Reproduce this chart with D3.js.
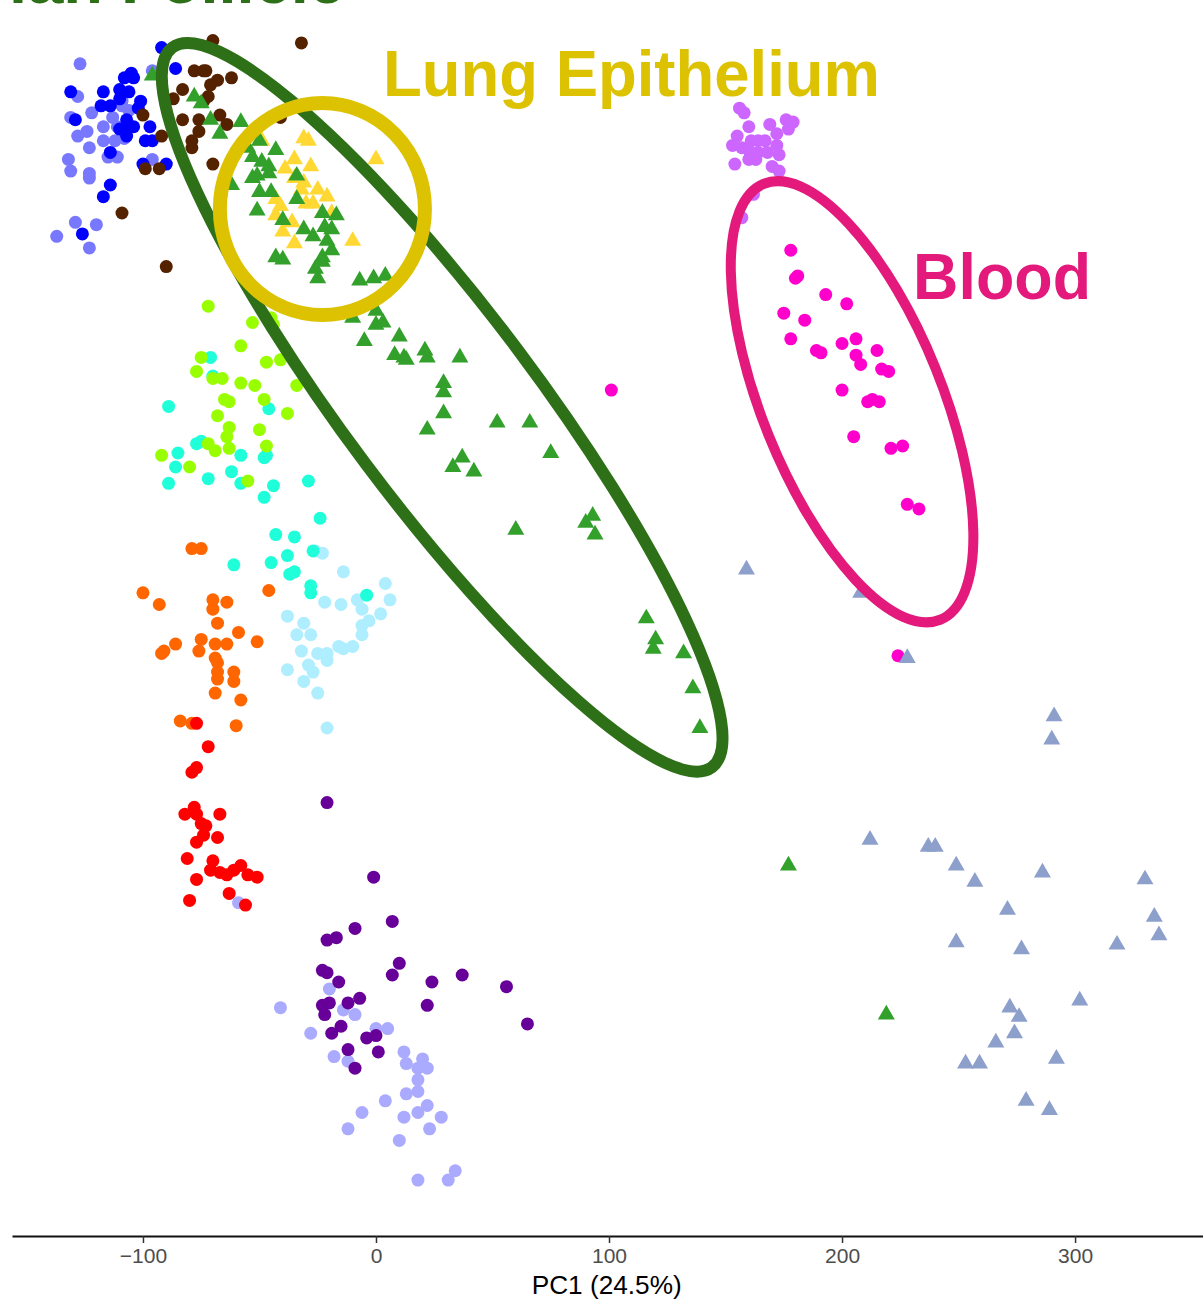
<!DOCTYPE html>
<html><head><meta charset="utf-8">
<script src="https://cdn.jsdelivr.net/npm/d3@7"></script>
<style>html,body{margin:0;padding:0;background:#fff;overflow:hidden}</style>
</head><body>
<svg id="chart" width="1203" height="1299"></svg>
<script>
// ---- data (PC1, PC2) ----
const blueCells = [[-92,280],[-86,271],[-105,269],[-108,267],[-104,267],[-131,261],[-117,261],[-110,262],[-106,261],[-101,257],[-118,255],[-114,255],[-107,249],[-110,245],[-107,246],[-104,246],[-97,246],[-129,249],[-107,242],[-99,240],[-96,240],[-114,235],[-90,230],[-114,221],[-117,216],[-126,200],[-100,230],[-110,258],[-102,254]];
const periwinkleCells = [[-127,273],[-128,259],[-131,250],[-122,252],[-113,250],[-109,257],[-106,253],[-124,244],[-128,242],[-117,240],[-112,240],[-123,237],[-132,232],[-131,227],[-123,226],[-123,224],[-115,233],[-111,233],[-96,270],[-96,232],[-129,205],[-120,204],[-137,199],[-123,194],[-109,255],[-111,246],[-117,246],[-108,241]];
const brownCells = [[-70,283],[-32,282],[-78,270],[-74,270],[-73,270],[-68,266],[-71,264],[-62,267],[-83,262],[-72,259],[-74,257],[-87,258],[-67,251],[-83,249],[-76,249],[-92,242],[-79,240],[-79,237],[-76,244],[-100,251],[-99,228],[-93,228],[-70,230],[-41,250],[-109,209],[-90,186],[-64,247]];
const greenTri = [[-96,268],[-78,259],[-75,256],[-71,249],[-67,243],[-58,248],[-50,240],[-55,237],[-53,233],[-43,236],[-46,229],[-49,231],[-53,224],[-51,225],[-62,221],[-45,218],[-50,218],[-51,210],[-34,225],[-34,215],[-40,206],[-31,202],[-23,209],[-17,208],[-22,203],[-19,202],[-27,199],[-21,197],[-19,193],[-43,190],[-40,189],[-23,190],[-23,188],[-26,185],[-25,181],[-7,180],[-1,181],[4,182],[0,167],[-10,164],[0,161],[3,162],[-5,154],[10,156],[8,148],[12,147],[13,146],[21,150],[22,147],[36,147],[29,136],[29,132],[29,123],[22,116],[52,119],[66,119],[75,106],[37,104],[33,100],[42,98],[60,73],[90,76],[93,79],[94,71],[116,35],[120,26],[119,22],[132,20],[136,5],[139,-12],[177,-71],[219,-135],[-46,226]];
const yellowTri = [[-31,241],[-29,240],[0,232],[-35,232],[-28,229],[-39,228],[-35,224],[-31,222],[-32,219],[-25,219],[-21,216],[-43,215],[-41,212],[-30,213],[-27,213],[-43,208],[-36,205],[-40,201],[-35,196],[-10,197],[-19,209],[-49,240]];
const limeCells = [[-72,169],[-53,162],[-45,164],[-44,161],[-58,152],[-75,147],[-77,141],[-47,145],[-41,146],[-70,138],[-66,138],[-58,136],[-52,135],[-34,135],[-65,129],[-63,128],[-48,129],[-38,123],[-68,122],[-63,117],[-64,113],[-50,116],[-72,110],[-69,107],[-63,108],[-47,109],[-92,105],[-80,100],[-55,94]];
const aquaCells = [[-71,147],[-70,139],[-89,126],[-46,125],[-77,110],[-75,111],[-85,106],[-86,100],[-58,105],[-48,104],[-47,105],[-89,93],[-72,95],[-62,98],[-58,93],[-44,92],[-29,94],[-48,87],[-24,78],[-43,71],[-35,70],[-61,58],[-45,59],[-38,62],[-37,54],[-35,55],[-28,49],[-28,46],[-4,45],[-27,64]];
const lightCyanCells = [[-26,64],[-23,63],[-14,55],[4,50],[6,43],[-8,43],[-22,42],[-15,41],[-6,39],[2,37],[-3,34],[-6,32],[-6,28],[-38,36],[-31,33],[-34,28],[-28,28],[-16,23],[-14,22],[-10,23],[-25,20],[-21,20],[-21,17],[-32,21],[-29,15],[-27,12],[-38,13],[-31,8],[-25,3],[-21,-12]];
const orangeCells = [[-79,65],[-75,65],[-100,46],[-93,41],[-46,47],[-70,43],[-64,42],[-70,39],[-68,33],[-59,29],[-51,25],[-75,26],[-69,24],[-64,24],[-86,24],[-91,21],[-92,20],[-76,21],[-69,18],[-68,16],[-68,12],[-68,9],[-61,12],[-61,8],[-69,3],[-58,0],[-84,-9],[-79,-10],[-60,-11]];
const redCells = [[-77,-10],[-72,-20],[-77,-29],[-79,-31],[-78,-46],[-82,-49],[-67,-49],[-77,-49],[-75,-53],[-73,-54],[-74,-58],[-77,-61],[-68,-59],[-81,-68],[-70,-69],[-71,-73],[-67,-74],[-64,-75],[-61,-73],[-58,-71],[-55,-75],[-51,-76],[-77,-77],[-80,-86],[-63,-83],[-56,-88]];
const purpleCells = [[-21,-44],[-1,-76],[7,-95],[-9,-98],[-21,-103],[-17,-102],[10,-113],[7,-118],[-23,-116],[-21,-117],[-16,-121],[24,-121],[37,-118],[56,-123],[-7,-128],[22,-131],[-23,-131],[-20,-130],[-12,-130],[-22,-135],[-15,-140],[-19,-143],[-4,-145],[0,-144],[65,-139],[-12,-150],[1,-151],[-9,-158]];
const lavenderCells = [[-59,-87],[-41,-132],[-20,-124],[-14,-133],[-9,-135],[-28,-143],[0,-141],[5,-141],[-18,-153],[-12,-155],[12,-151],[13,-156],[18,-158],[20,-154],[22,-158],[18,-163],[13,-169],[18,-168],[4,-172],[22,-174],[18,-177],[-6,-177],[12,-179],[28,-179],[23,-184],[-12,-184],[10,-189],[34,-202],[31,-206],[18,-206]];
const violetCells = [[156,254],[158,252],[160,246],[169,247],[176,249],[179,248],[177,245],[155,242],[153,238],[157,237],[161,240],[164,240],[167,240],[172,243],[172,238],[160,236],[164,235],[168,235],[173,234],[163,232],[160,232],[154,230],[170,229],[173,227],[162,217],[157,207]];
const bloodCells = [[178,193],[181,182],[180,181],[193,174],[202,170],[175,166],[184,163],[178,155],[189,150],[191,149],[200,153],[206,155],[215,150],[206,148],[208,144],[217,142],[220,141],[200,133],[211,128],[213,129],[216,128],[205,113],[221,108],[226,109],[228,84],[233,82],[224,19],[101,133]];
const slateTri = [[291,-7],[290,-17],[212,-60],[237,-63],[240,-63],[249,-71],[257,-78],[286,-74],[330,-77],[271,-90],[334,-93],[336,-101],[318,-105],[249,-104],[277,-107],[302,-129],[272,-132],[276,-136],[274,-143],[266,-147],[253,-156],[259,-156],[292,-154],[279,-172],[289,-176],[159,56],[208,46],[228,18]];

const pc1Ticks = [-100, 0, 100, 200, 300];
const xTitle = "PC1 (24.5%)";

// annotation ellipses (data units)
const ellipseCenters = [[28.4,125.6],[-23,210.7],[204.3,128]];
const ellipseRadii = [[193,40.8],[44,45.5],[100.9,38.6]];
const ellipseAngles = [-53.13, 0, -68];
const labelTexts = ["Ovarian Follicle", "Lung Epithelium", "Blood"];

// ---- series table ----
const series = [
  {v: lightCyanCells, c: "#AEEEFF", s: "circle"},
  {v: aquaCells, c: "#1FFFD9", s: "circle"},
  {v: limeCells, c: "#99FF00", s: "circle"},
  {v: orangeCells, c: "#FF6600", s: "circle"},
  {v: lavenderCells, c: "#AAAAFF", s: "circle"},
  {v: redCells, c: "#FF0000", s: "circle"},
  {v: purpleCells, c: "#660099", s: "circle"},
  {v: periwinkleCells, c: "#7878FF", s: "circle"},
  {v: blueCells, c: "#0000FF", s: "circle"},
  {v: brownCells, c: "#552200", s: "circle"},
  {v: violetCells, c: "#CC66FF", s: "circle"},
  {v: bloodCells, c: "#FF00CC", s: "circle"},
  {v: slateTri, c: "#8DA0CB", s: "tri"},
  {v: yellowTri, c: "#FFD833", s: "tri"},
  {v: greenTri, c: "#33A02C", s: "tri"}
];
const ellipseColors = ["#2E7017", "#DCC200", "#E31A7C"];
const ellipseWidths = [12, 14, 10];

const svg = d3.select("#chart");
const x = d3.scaleLinear().domain([-156.2, 354.9]).range([12, 1203]);
const y = d3.scaleLinear().domain([-230, 300.4]).range([1236, 0]);

const font = "'Liberation Sans', Arial, Helvetica, sans-serif";

// points
const tri = d3.symbol(d3.symbolTriangle, 125);
series.forEach(sr => {
  const g = svg.append("g");
  if (sr.s === "circle") {
    g.selectAll("circle").data(sr.v).join("circle")
      .attr("cx", d => x(d[0])).attr("cy", d => y(d[1])).attr("r", 6.5)
      .attr("fill", sr.c);
  } else {
    g.selectAll("path").data(sr.v).join("path")
      .attr("d", tri)
      .attr("transform", d => `translate(${x(d[0])},${y(d[1])})`)
      .attr("fill", sr.c);
  }
});

// ellipses
ellipseCenters.forEach((c, i) => {
  svg.append("ellipse")
    .attr("transform", `translate(${x(c[0])},${y(c[1])}) rotate(${-ellipseAngles[i]})`)
    .attr("rx", x(ellipseRadii[i][0]) - x(0))
    .attr("ry", y(0) - y(ellipseRadii[i][1]))
    .attr("fill", "none")
    .attr("stroke", ellipseColors[i])
    .attr("stroke-width", ellipseWidths[i]);
});

// labels
svg.append("text").attr("x", x(-13.3)).attr("y", y(299))
  .attr("text-anchor", "end").attr("font-family", font).attr("font-weight", "bold")
  .attr("font-size", 65).attr("fill", ellipseColors[0]).text(labelTexts[0]);
svg.append("text").attr("x", x(3)).attr("y", y(259))
  .attr("font-family", font).attr("font-weight", "bold")
  .attr("font-size", 64).attr("fill", ellipseColors[1])
  .attr("textLength", 497).attr("lengthAdjust", "spacingAndGlyphs").text(labelTexts[1]);
svg.append("text").attr("x", x(230.5)).attr("y", y(172))
  .attr("font-family", font).attr("font-weight", "bold")
  .attr("font-size", 64).attr("fill", ellipseColors[2])
  .attr("textLength", 178).attr("lengthAdjust", "spacingAndGlyphs").text(labelTexts[2]);

// axis
const axis = d3.axisBottom(x).tickValues(pc1Ticks).tickSize(7).tickSizeOuter(0).tickPadding(5)
  .tickFormat(d => d < 0 ? "\u2212" + Math.abs(d) : String(d));
const ag = svg.append("g").attr("transform", "translate(0,1236)").call(axis);
ag.select(".domain").attr("stroke", "#111").attr("stroke-width", 2);
ag.selectAll(".tick line").attr("stroke", "#333").attr("stroke-width", 1.5);
ag.selectAll(".tick text").attr("font-family", font).attr("font-size", 21).attr("fill", "#4D4D4D");

svg.append("text").attr("x", x(99)).attr("y", 1294).attr("text-anchor", "middle")
  .attr("font-family", font).attr("font-size", 26).attr("fill", "#000")
  .attr("textLength", 150).attr("lengthAdjust", "spacingAndGlyphs").text(xTitle);
</script>
</body></html>
